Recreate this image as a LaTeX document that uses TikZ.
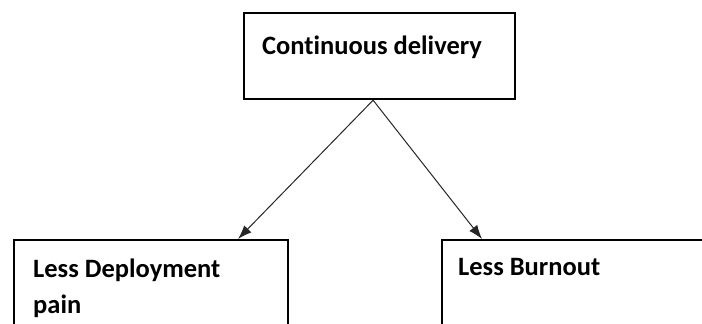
\documentclass[tikz,border=0pt]{standalone}
\usepackage{fontspec}
\setmainfont{Carlito}[Ligatures=NoCommon]
\usepackage{tikz}
\usetikzlibrary{arrows.meta,calc}
\tikzset{box/.style={draw,line width=2.2pt,rectangle,inner sep=0pt,anchor=north west}}
\tikzset{txt/.style={inner sep=0pt,anchor=base west,align=left,font=\fontsize{26.5}{36}\selectfont\bfseries}}
\tikzset{arr/.style={-{Latex[length=14pt,width=10pt]},line width=1pt,black!85}}

\begin{document}
\begin{tikzpicture}[x=1pt,y=-1pt]
    \useasboundingbox (0,0) rectangle (702,324);
    \clip (0,0) rectangle (702,324);
    \node[box,minimum width=271,minimum height=86] (cd) at (243,12) {};
    \node[txt] (cdtext) at (262,54) {Continuous delivery};
    \node[box,minimum width=274,minimum height=110] (dp) at (13,239) {};
    \node[txt] (dptext) at (33,313) {Less Deployment\\pain};
    \node[box,minimum width=280,minimum height=110] (bo) at (441,239) {};
    \node[txt] (botext) at (458,275) {Less Burnout};
    \draw[arr] ($(cd.south)+(-6.5,0)$) -- ($(dp.north west)+(225,0)$);
    \draw[arr] ($(cd.south)+(-6.5,0)$) -- ($(bo.north west)+(41,0)$);
  \end{tikzpicture}
\end{document}
